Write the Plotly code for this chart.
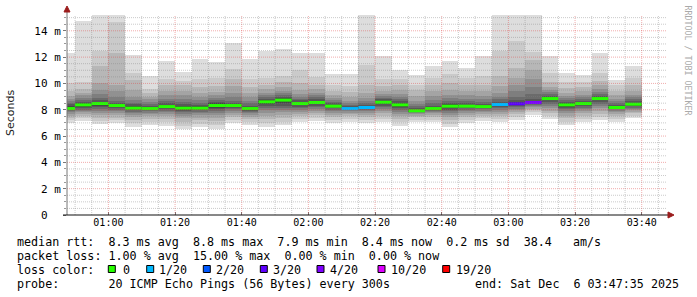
import plotly.graph_objects as go
from datetime import datetime, timedelta

# ---------------- data ----------------
day = "2025-12-06"
axis_start = "00:47:35"
axis_end = "03:47:35"

# end time of each 5-minute smokeping step
bar_end = ["00:50", "00:55", "01:00", "01:05", "01:10", "01:15", "01:20", "01:25",
           "01:30", "01:35", "01:40", "01:45", "01:50", "01:55", "02:00", "02:05",
           "02:10", "02:15", "02:20", "02:25", "02:30", "02:35", "02:40", "02:45",
           "02:50", "02:55", "03:00", "03:05", "03:10", "03:15", "03:20", "03:25",
           "03:30", "03:35", "03:40"]

# median rtt per step (ms)
median_ms = [8.09, 8.37, 8.47, 8.32, 8.12, 8.09, 8.24, 8.12, 8.12, 8.32, 8.32, 8.09,
             8.60, 8.73, 8.47, 8.55, 8.27, 8.09, 8.17, 8.57, 8.37, 7.92, 8.09, 8.27,
             8.27, 8.24, 8.40, 8.45, 8.55, 8.85, 8.37, 8.47, 8.85, 8.17, 8.42]

# lost pings (of 20) per step
loss_count = [0, 0, 0, 0, 0, 0, 0, 0, 0, 0, 0, 0, 0, 0, 0, 0, 0, 1, 1, 0, 0, 0, 0, 0,
              0, 0, 1, 3, 4, 0, 0, 0, 0, 0, 0]

# sorted ping rtts (ms), rank 1 (fastest) .. rank 20 (slowest), one value per step
p01 = [6.98, 7.15, 6.9, 6.98, 6.72, 6.85, 6.77, 6.52, 6.67, 6.55, 6.98, 6.85, 6.72, 6.85, 7.1, 7.18, 6.98, 7.1, 6.98, 7.1, 6.77, 7.05, 7.05, 6.67, 6.98, 7.15, 7.05, 7.23, 7.61, 7.28, 6.85, 7.05, 7.23, 7.1, 7.35]
p02 = [7.2, 7.35, 7.15, 7.2, 7.0, 7.1, 7.05, 6.8, 6.95, 6.85, 7.2, 7.1, 7.0, 7.1, 7.3, 7.4, 7.2, 7.3, 7.2, 7.3, 7.05, 7.25, 7.25, 6.95, 7.2, 7.35, 7.28, 7.45, 7.8, 7.5, 7.1, 7.3, 7.45, 7.32, 7.55]
p03 = [7.4, 7.5, 7.4, 7.4, 7.25, 7.3, 7.3, 7.1, 7.2, 7.15, 7.45, 7.3, 7.3, 7.35, 7.5, 7.6, 7.42, 7.5, 7.42, 7.52, 7.3, 7.42, 7.45, 7.2, 7.42, 7.55, 7.5, 7.65, 7.95, 7.72, 7.35, 7.52, 7.68, 7.52, 7.72]
p04 = [7.55, 7.65, 7.6, 7.6, 7.45, 7.5, 7.5, 7.35, 7.4, 7.4, 7.62, 7.48, 7.55, 7.6, 7.7, 7.78, 7.6, 7.65, 7.6, 7.72, 7.52, 7.56, 7.6, 7.42, 7.6, 7.7, 7.68, 7.8, 8.08, 7.92, 7.55, 7.72, 7.9, 7.68, 7.86]
p05 = [7.7, 7.8, 7.75, 7.75, 7.6, 7.65, 7.65, 7.55, 7.58, 7.6, 7.78, 7.62, 7.75, 7.8, 7.85, 7.92, 7.75, 7.78, 7.75, 7.9, 7.7, 7.68, 7.72, 7.6, 7.75, 7.82, 7.85, 7.95, 8.18, 8.1, 7.72, 7.88, 8.1, 7.82, 7.98]
p06 = [7.8, 7.9, 7.9, 7.9, 7.75, 7.78, 7.8, 7.7, 7.72, 7.75, 7.9, 7.75, 7.95, 7.98, 8.0, 8.05, 7.88, 7.88, 7.88, 8.05, 7.85, 7.76, 7.82, 7.75, 7.88, 7.93, 7.98, 8.08, 8.28, 8.28, 7.88, 8.02, 8.28, 7.93, 8.08]
p07 = [7.9, 8.0, 8.05, 8.0, 7.85, 7.88, 7.92, 7.82, 7.85, 7.9, 8.02, 7.85, 8.12, 8.15, 8.12, 8.18, 8.0, 7.96, 7.98, 8.2, 7.98, 7.82, 7.9, 7.88, 8.0, 8.02, 8.1, 8.2, 8.36, 8.45, 8.02, 8.14, 8.45, 8.02, 8.17]
p08 = [7.95, 8.1, 8.2, 8.1, 7.95, 7.96, 8.02, 7.92, 7.95, 8.02, 8.12, 7.93, 8.28, 8.32, 8.24, 8.3, 8.1, 8.02, 8.06, 8.32, 8.1, 7.86, 7.97, 8.0, 8.1, 8.1, 8.2, 8.3, 8.43, 8.6, 8.14, 8.25, 8.6, 8.08, 8.25]
p09 = [8.0, 8.2, 8.3, 8.2, 8.02, 8.02, 8.12, 8.0, 8.02, 8.15, 8.2, 8.0, 8.42, 8.5, 8.34, 8.42, 8.18, 8.06, 8.12, 8.44, 8.2, 7.89, 8.03, 8.12, 8.18, 8.16, 8.28, 8.38, 8.48, 8.72, 8.24, 8.35, 8.72, 8.13, 8.32]
p10 = [8.05, 8.32, 8.42, 8.28, 8.08, 8.07, 8.2, 8.08, 8.09, 8.27, 8.28, 8.06, 8.55, 8.68, 8.43, 8.51, 8.24, 8.08, 8.16, 8.53, 8.32, 7.91, 8.07, 8.22, 8.24, 8.21, 8.36, 8.44, 8.51, 8.82, 8.33, 8.43, 8.82, 8.16, 8.38]
p11 = [8.13, 8.42, 8.52, 8.36, 8.15, 8.11, 8.28, 8.16, 8.15, 8.37, 8.36, 8.12, 8.65, 8.78, 8.51, 8.59, 8.3, 8.11, 8.2, 8.61, 8.42, 7.94, 8.11, 8.32, 8.3, 8.27, 8.44, 8.5, 8.58, 8.88, 8.41, 8.51, 8.88, 8.19, 8.46]
p12 = [8.25, 8.5, 8.62, 8.45, 8.25, 8.2, 8.38, 8.28, 8.25, 8.48, 8.45, 8.2, 8.75, 8.88, 8.6, 8.68, 8.38, 8.16, 8.26, 8.7, 8.52, 8.0, 8.18, 8.42, 8.38, 8.35, 8.52, 8.6, 8.68, 8.95, 8.5, 8.6, 8.96, 8.25, 8.55]
p13 = [8.4, 8.6, 8.75, 8.55, 8.4, 8.3, 8.5, 8.42, 8.38, 8.6, 8.55, 8.32, 8.85, 9.0, 8.72, 8.8, 8.48, 8.25, 8.35, 8.8, 8.65, 8.1, 8.3, 8.55, 8.5, 8.45, 8.62, 8.75, 8.85, 9.05, 8.6, 8.7, 9.08, 8.35, 8.65]
p14 = [8.55, 8.75, 8.9, 8.7, 8.55, 8.45, 8.65, 8.6, 8.55, 8.75, 8.7, 8.48, 8.98, 9.12, 8.85, 8.95, 8.6, 8.38, 8.48, 8.92, 8.8, 8.25, 8.5, 8.7, 8.65, 8.6, 8.78, 9.0, 9.2, 9.18, 8.72, 8.82, 9.22, 8.48, 8.78]
p15 = [8.7, 8.9, 9.2, 9.0, 8.75, 8.6, 8.85, 8.8, 8.75, 8.92, 8.95, 8.68, 9.12, 9.28, 9.0, 9.1, 8.75, 8.52, 8.65, 9.05, 8.98, 8.45, 8.75, 8.9, 8.85, 8.8, 9.0, 9.4, 9.7, 9.32, 8.88, 8.98, 9.38, 8.65, 8.95]
p16 = [8.85, 9.1, 9.5, 9.4, 9.0, 8.8, 9.1, 9.1, 9.0, 9.1, 9.3, 8.95, 9.3, 9.45, 9.2, 9.3, 8.92, 8.7, 8.9, 9.2, 9.2, 8.7, 9.05, 9.15, 9.1, 9.05, 9.3, 9.9, 10.3, 9.5, 9.05, 9.15, 9.58, 8.85, 9.15]
p17 = [9.05, 9.3, 10.0, 9.9, 9.5, 9.0, 9.4, 9.4, 9.3, 9.35, 9.8, 9.3, 9.55, 9.7, 9.5, 9.55, 9.15, 8.95, 9.3, 9.45, 9.5, 9.05, 9.4, 9.5, 9.45, 9.4, 9.8, 10.4, 11.0, 9.75, 9.3, 9.4, 9.85, 9.1, 9.45]
p18 = [9.4, 9.6, 11.29, 12.3, 10.27, 9.3, 9.9, 9.85, 9.7, 9.8, 10.3, 9.75, 9.9, 10.1, 10.0, 9.9, 9.45, 9.35, 9.85, 9.8, 9.9, 9.5, 9.9, 10.0, 9.9, 9.85, 10.6, 11.2, 11.8, 10.1, 9.65, 9.7, 10.2, 9.45, 9.85]
p19 = [10.0, 10.1, 12.43, 14.7, 10.78, 9.55, 10.3, 10.2, 10.3, 10.4, 11.1, 10.3, 10.4, 10.6, 11.03, 10.5, 9.85, 9.8, 11.4, 10.3, 10.3, 9.9, 10.4, 10.7, 10.4, 10.6, 12.5, 13.2, 12.4, 10.8, 10.1, 10.1, 10.8, 9.85, 10.4]
p20 = [12.3, 14.76, 15.6, 15.6, 12.18, 10.58, 11.72, 10.9, 11.87, 11.64, 13.11, 11.87, 12.43, 12.63, 12.35, 12.35, 10.73, 10.73, 15.6, 12.05, 11.03, 10.65, 11.29, 11.74, 11.19, 12.05, 15.6, 15.6, 15.6, 12.1, 10.83, 10.65, 12.35, 10.27, 11.36]

y_tick_vals = [0, 2, 4, 6, 8, 10, 12, 14]
y_tick_text = ["0  ", "2 m", "4 m", "6 m", "8 m", "10 m", "12 m", "14 m"]
x_tick_text = ["01:00", "01:20", "01:40", "02:00", "02:20", "02:40", "03:00", "03:20", "03:40"]

loss_keys = [0, 1, 2, 3, 4, 10, 19]
loss_labels = ["0", "1/20", "2/20", "3/20", "4/20", "10/20", "19/20"]
loss_colors = ["#26ff00", "#00b8ff", "#0059ff", "#5e00ff", "#7e00ff", "#dd00ff", "#ff0000"]

legend_median = "median rtt:  8.3 ms avg  8.8 ms max  7.9 ms min  8.4 ms now  0.2 ms sd  38.4   am/s"
legend_loss = "packet loss: 1.00 % avg  15.00 % max  0.00 % min  0.00 % now"
legend_probe = "probe:       20 ICMP Echo Pings (56 Bytes) every 300s"
legend_end = "end: Sat Dec  6 03:47:35 2025"

# ---------------- figure ----------------
def t(hm):
    fmt = "%Y-%m-%d %H:%M:%S" if hm.count(":") == 2 else "%Y-%m-%d %H:%M"
    return datetime.strptime(f"{day} {hm}", fmt)

STEP = timedelta(minutes=5)
ends = [t(s) for s in bar_end]
centers = [e - STEP / 2 for e in ends]
starts = [e - STEP for e in ends]

W, H = 697, 297
L, R, T, B = 67, 30, 15, 82
PW, PH = W - L - R, H - T - B

def px(x):
    return (x - L) / PW

def py(y):
    return (H - B - y) / PH

MONO = "DejaVu Sans Mono"
nb = lambda s: s.replace(" ", "\u00a0")

fig = go.Figure()

pings = [p01, p02, p03, p04, p05, p06, p07, p08, p09, p10,
         p11, p12, p13, p14, p15, p16, p17, p18, p19, p20]
half = len(pings) // 2
for i in range(half):
    lo = pings[i]
    hi = pings[len(pings) - 1 - i]
    g = int(190 / half * (half - 1 - i)) + 50
    fig.add_trace(go.Bar(
        x=centers, base=lo, y=[h - l for h, l in zip(hi, lo)],
        width=STEP.total_seconds() * 1000,
        marker=dict(color=f"rgb({g},{g},{g})", line=dict(width=0)),
        hoverinfo="skip", showlegend=False))

def loss_index(n):
    idx = 0
    for k, key in enumerate(loss_keys):
        if n >= key:
            idx = k
    return idx

for k in range(len(loss_keys)):
    xs, ys = [], []
    for s, e, m, n in zip(starts, ends, median_ms, loss_count):
        if loss_index(n) == k:
            xs += [s, e, None]
            ys += [m, m, None]
    if xs:
        fig.add_trace(go.Scatter(x=xs, y=ys, mode="lines",
                                 line=dict(color=loss_colors[k], width=3),
                                 hoverinfo="skip", showlegend=False))

shapes = []
MINOR = "rgba(128,128,128,0.42)"
MAJOR = "rgba(225,70,70,0.45)"
DASH = "1px,1px"
# horizontal grid
for k in range(1, 31):
    v = k * 0.5
    major = (k % 4 == 0)
    shapes.append(dict(type="line", xref="paper", yref="y", x0=0, x1=1, y0=v, y1=v,
                       line=dict(color=MAJOR if major else MINOR, width=1, dash=DASH),
                       layer="above"))
# vertical grid
x0t, x1t = t(axis_start), t(axis_end)
g = t("00:50")
while g < x1t:
    major = (g.minute % 20 == 0)
    shapes.append(dict(type="line", xref="x", yref="paper", x0=g, x1=g, y0=0, y1=1,
                       line=dict(color=MAJOR if major else MINOR, width=1, dash=DASH),
                       layer="above"))
    g += STEP

# axes lines and arrows
shapes.append(dict(type="line", xref="paper", yref="paper", x0=0, x1=0, y0=0, y1=py(10),
                   line=dict(color="#777777", width=1), layer="above"))
shapes.append(dict(type="line", xref="paper", yref="paper", x0=px(63), x1=px(668), y0=0, y1=0,
                   line=dict(color="#111111", width=1), layer="above"))
ARROW = "#9b1c1c"
shapes.append(dict(type="path", xref="paper", yref="paper",
                   path=f"M {px(64)} {py(12)} L {px(70)} {py(12)} L {px(67)} {py(6)} Z",
                   fillcolor=ARROW, line=dict(color=ARROW, width=1), layer="above"))
shapes.append(dict(type="path", xref="paper", yref="paper",
                   path=f"M {px(668)} {py(212)} L {px(668)} {py(218)} L {px(674)} {py(215)} Z",
                   fillcolor=ARROW, line=dict(color=ARROW, width=1), layer="above"))

# loss color boxes
box_x = [108.3, 146.7, 203.3, 260.3, 317, 378, 442.7]
lab_x = [121.7, 158.3, 215.3, 272.3, 329, 390.3, 455]
for bx, col in zip(box_x, loss_colors):
    shapes.append(dict(type="rect", xref="paper", yref="paper",
                       x0=px(bx), x1=px(bx + 7), y0=py(265.5), y1=py(272.5),
                       fillcolor=col, line=dict(color="#000000", width=1)))

annotations = []
def txt(x, y, s, size=11.7, anchor="left", color="#000000", family=MONO, angle=0):
    annotations.append(dict(xref="paper", yref="paper", x=px(x), y=py(y), text=nb(s),
                            showarrow=False, xanchor=anchor, yanchor="middle",
                            textangle=angle, borderpad=0,
                            font=dict(family=family, size=size, color=color)))

txt(16, 241.5, legend_median)
txt(16, 255.5, legend_loss)
txt(16, 269.5, "loss color:")
for lx, lab in zip(lab_x, loss_labels):
    txt(lx, 269.5, lab)
txt(16, 284, legend_probe)
txt(680, 284, legend_end, anchor="right")
txt(10, 113, "Seconds", size=11, anchor="center", family="DejaVu Sans", color="#222222", angle=-90)
txt(687.5, 60, "RRDTOOL / TOBI OETIKER", size=8.3, anchor="center", color="#aaaaaa", angle=90)

fig.update_layout(
    width=W, height=H, margin=dict(l=L, r=R, t=T, b=B, pad=0),
    paper_bgcolor="white", plot_bgcolor="white",
    barmode="overlay", bargap=0, showlegend=False,
    shapes=shapes, annotations=annotations,
    xaxis=dict(type="date", range=[x0t, x1t], showgrid=False, zeroline=False,
               showline=False, tickvals=[t(s) for s in x_tick_text], ticktext=x_tick_text,
               ticks="inside", ticklen=3, tickcolor="#777777",
               tickfont=dict(family=MONO, size=10, color="#000000")),
    yaxis=dict(range=[0, 15.2], showgrid=False, zeroline=False, showline=False,
               tickvals=y_tick_vals, ticktext=[nb(s) for s in y_tick_text],
               ticks="outside", ticklen=3, tickcolor="#777777",
               minor=dict(dtick=0.5, ticks="outside", ticklen=2, tickcolor="#999999", showgrid=False),
               tickfont=dict(family=MONO, size=11, color="#000000")),
)

fig.write_html("out.html")
